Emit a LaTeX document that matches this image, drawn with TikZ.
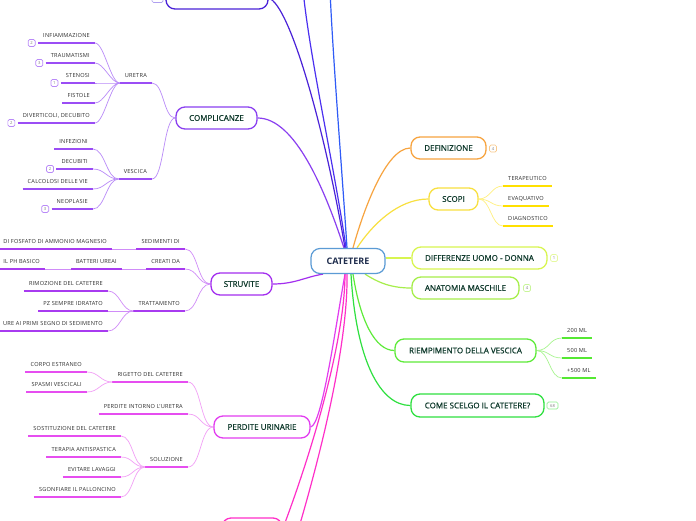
\documentclass[tikz,border=0pt]{standalone}
\usepackage{fontspec}
\setmainfont{Open Sans}
\newfontfamily\leaffont{Open Sans}[LetterSpace=4]
\newfontfamily\titlefont{Open Sans}[FakeBold=0.9]
\usetikzlibrary{backgrounds}
\definecolor{titlecol}{HTML}{0F3A2C}
\definecolor{centcol}{HTML}{1F2D4D}
\definecolor{leafcol}{HTML}{2E2E2E}
\definecolor{cCent}{HTML}{5B9BD5}
\definecolor{cDef}{HTML}{F7A440}\definecolor{cDefL}{HTML}{F9C98A}
\definecolor{cSco}{HTML}{F8E040}\definecolor{cScoU}{HTML}{FFE000}\definecolor{cScoL}{HTML}{FFF080}
\definecolor{cDif}{HTML}{D8F550}\definecolor{cDifL}{HTML}{E6F9A0}
\definecolor{cAna}{HTML}{A6EE4A}\definecolor{cAnaL}{HTML}{C9F59A}
\definecolor{cRie}{HTML}{5EEB3A}\definecolor{cRieU}{HTML}{55E833}\definecolor{cRieL}{HTML}{A8F590}
\definecolor{cCom}{HTML}{2FE040}\definecolor{cComL}{HTML}{90EE90}
\definecolor{cCmp}{HTML}{8A3FF0}\definecolor{cCmpU}{HTML}{9B4DF5}\definecolor{cCmpL}{HTML}{B98AF8}
\definecolor{cStr}{HTML}{A32EEF}\definecolor{cStrU}{HTML}{A83BF0}\definecolor{cStrL}{HTML}{D08CF8}
\definecolor{cPer}{HTML}{E23CF0}\definecolor{cPerU}{HTML}{E64EF0}\definecolor{cPerL}{HTML}{F2A0F6}
\definecolor{cPink}{HTML}{FF2FC8}
\definecolor{cTop}{HTML}{4A22D8}\definecolor{cTopL}{HTML}{B0A0F0}
\definecolor{cB1}{HTML}{4B30F0}\definecolor{cB2}{HTML}{2F5BF7}
\tikzset{
  centre/.style={draw=cCent, line width=1.2pt, rounded corners=9pt, fill=white,
    minimum width=74pt, minimum height=25pt, inner sep=0pt,
    font=\bfseries\fontsize{9}{10}\selectfont, text=centcol},
  topic/.style={draw=#1, line width=1.3pt, rounded corners=9pt, fill=white,
    minimum height=22pt, inner sep=0pt, font=\titlefont\fontsize{8}{9}\selectfont, text=titlecol},
  badge/.style={draw=#1, line width=0.7pt, rounded corners=1.5pt, fill=white,
    minimum width=7pt, minimum height=7pt, inner sep=0.5pt,
    font=\fontsize{4.2}{4.2}\selectfont, text=gray},
  leaf/.style={inner xsep=5pt, inner ysep=5pt, text height=4.2pt, text depth=0pt,
    font=\leaffont\fontsize{5.6}{6}\selectfont, text=leafcol},
  leafL/.style={leaf, anchor=south east},
  leafR/.style={leaf, anchor=south west},
  main/.style={draw=#1, line width=1.2pt},
  sub/.style={draw=#1, line width=0.7pt},
  ul/.style={draw=#1, line width=1.8pt},
}
\begin{document}
\begin{tikzpicture}[x=1pt,y=-1pt]
\useasboundingbox (0,0) rectangle (696,520);
% centre
\node[centre] (cat) at (348,261) {CATETERE};
% right branches
\node[topic=cDef, minimum width=75pt] (def) at (448.5,148) {DEFINIZIONE};
\node[badge=cDefL] (defb) at (493,148.5) {4};
\node[topic=cSco, minimum width=49pt] (sco) at (453.5,199) {SCOPI};
\node[leafR] (ter) at (503,186) {TERAPEUTICO};
\node[leafR] (eva) at (503,206) {EVAQUATIVO};
\node[leafR] (dia) at (503,226) {DIAGNOSTICO};
\node[topic=cDif, minimum width=135pt] (dif) at (479.5,258) {DIFFERENZE UOMO - DONNA};
\node[badge=cDifL] (difb) at (554,258) {1};
\node[topic=cAna, minimum width=107pt] (ana) at (465.5,288) {ANATOMIA MASCHILE};
\node[badge=cAnaL] (anab) at (527,288) {4};
\node[topic=cRie, minimum width=141pt, minimum height=23pt] (rie) at (465.5,350.5) {RIEMPIMENTO DELLA VESCICA};
\node[leafR] (m200) at (562,338) {200 ML};
\node[leafR] (m500) at (562,358) {500 ML};
\node[leafR] (m500p) at (562,378) {+500 ML};
\node[topic=cCom, minimum width=133pt, minimum height=23pt] (com) at (477.5,405.5) {COME SCELGO IL CATETERE?};
\node[badge=cComL, minimum width=11pt] (comb) at (552.5,405.5) {68};
% top (cut) branch
\node[topic=cTop, minimum width=102pt] (topn) at (217,-2) {};
\node[badge=cTopL, minimum width=11pt] (topb) at (157.5,-1) {};
% complicanze
\node[topic=cCmp, minimum width=81pt] (cmp) at (216.5,118) {COMPLICANZE};
\node[leafL] (ure) at (152,83) {URETRA};
\node[leafL] (inf) at (95,43) {INFIAMMAZIONE};
\node[leafL] (trau) at (95,63) {TRAUMATISMI};
\node[leafL] (ste) at (95,83) {STENOSI};
\node[leafL] (fis) at (95,103) {FISTOLE};
\node[leafL] (div) at (95,123) {DIVERTICOLI, DECUBITO};
\node[badge=cCmpL, anchor=east] (infb) at ([xshift=-2.5pt]inf.south west) {2};
\node[badge=cCmpL, anchor=east] (traub) at ([xshift=-2.5pt]trau.south west) {3};
\node[badge=cCmpL, anchor=east] (steb) at ([xshift=-2.5pt]ste.south west) {1};
\node[badge=cCmpL, anchor=east] (divb) at ([xshift=-2.5pt]div.south west) {2};
\node[leafL] (ves) at (152,179) {VESCICA};
\node[leafL] (infz) at (93,149) {INFEZIONI};
\node[leafL] (dec) at (93,169) {DECUBITI};
\node[leafL] (cal) at (93,189) {CALCOLOSI DELLE VIE};
\node[leafL] (neo) at (93,209) {NEOPLASIE};
\node[badge=cCmpL, anchor=east] (decb) at ([xshift=-2.5pt]dec.south west) {2};
\node[badge=cCmpL, anchor=east] (neob) at ([xshift=-2.5pt]neo.south west) {3};
% struvite
\node[topic=cStr, minimum width=61pt] (str) at (241.5,284) {STRUVITE};
\node[leafL] (sed) at (185,249) {SEDIMENTI DI};
\node[leafL] (fos) at (112,249) {DI FOSFATO DI AMMONIO MAGNESIO};
\node[leafL] (cre) at (185,269) {CREATI DA};
\node[leafL] (bat) at (122,269) {BATTERI UREAI};
\node[leafL] (ph) at (45,269) {IL PH BASICO};
\node[leafL] (tra) at (185,311) {TRATTAMENTO};
\node[leafL] (rim) at (108,291) {RIMOZIONE DEL CATETERE};
\node[leafL] (pz) at (108,311) {PZ SEMPRE IDRATATO};
\node[leafL] (ure2) at (108,331) {URE AI PRIMI SEGNO DI SEDIMENTO};
% perdite urinarie
\node[topic=cPer, minimum width=96pt] (per) at (262,427) {PERDITE URINARIE};
\node[leafL] (rig) at (188,382) {RIGETTO DEL CATETERE};
\node[leafL] (cor) at (87,372) {CORPO ESTRANEO};
\node[leafL] (spa) at (87,392) {SPASMI VESCICALI};
\node[leafL] (pin) at (188,414) {PERDITE INTORNO L'URETRA};
\node[leafL] (sol) at (188,467) {SOLUZIONE};
\node[leafL] (sos) at (121,436) {SOSTITUZIONE DEL CATETERE};
\node[leafL] (tea) at (121,457) {TERAPIA ANTISPASTICA};
\node[leafL] (evi) at (121,477) {EVITARE LAVAGGI};
\node[leafL] (sgo) at (121,497) {SGONFIARE IL PALLONCINO};
% bottom (cut) branch
\node[topic=cPink, minimum width=60pt] (bot) at (252,529) {};
\coordinate (offb) at (286,570);
\coordinate (offt1) at (303,-10);
\coordinate (offt2) at (330,-10);

\begin{scope}[on background layer]
\fill[white] (0,0) rectangle (696,520);
% main connectors
\draw[main=cDef] ([xshift=5pt]cat.north) .. controls (362,215) and (385,148) .. (def.west);
\draw[main=cSco] ([xshift=9pt]cat.north) .. controls (372,225) and (398,199) .. (sco.west);
\draw[main=cDif] (cat.east |- dif.west) -- (dif.west);
\draw[main=cAna] ([xshift=17pt]cat.south) .. controls (382,285) and (395,288) .. (ana.west);
\draw[main=cRie] ([xshift=5pt]cat.south) .. controls (360,320) and (375,350.5) .. (rie.west);
\draw[main=cCom] ([xshift=3pt]cat.south) .. controls (356,360) and (380,405.5) .. (com.west);
\draw[main=cCmp] (cmp.east) .. controls (295,118) and (325,190) .. ([xshift=-4pt]cat.north);
\draw[main=cStr] (str.east) .. controls (295,284) and (305,277) .. ([xshift=-25pt]cat.south);
\draw[main=cPer] (per.east) .. controls (322,425) and (335,330) .. ([xshift=-3pt]cat.south);
\draw[main=cPink] (bot.east) .. controls (320,430) and (345,330) .. ([xshift=-3pt]cat.south);
\draw[main=cPink] (offb) .. controls (330,430) and (348,330) .. ([xshift=-1pt]cat.south);
\draw[main=cTop] (topn.east) .. controls (290,5) and (325,130) .. ([xshift=-3pt]cat.north);
\draw[main=cB1] (offt1) .. controls (310,60) and (335,170) .. ([xshift=-2pt]cat.north);
\draw[main=cB2] (offt2) .. controls (333,60) and (342,170) .. ([xshift=-1pt]cat.north);
% scopi
\foreach \n in {ter,eva,dia}{
  \draw[sub=cScoL] (sco.east) .. controls +(12,0) and +(-12,0) .. (\n.south west);
  \draw[ul=cScoU] (\n.south west) -- (\n.south east);}
% riempimento
\foreach \n in {m200,m500,m500p}{
  \draw[sub=cRieL] (rie.east) .. controls +(13,0) and +(-13,0) .. (\n.south west);
  \draw[ul=cRieU] (\n.south west) -- (\n.south east);}
% complicanze
\foreach \n in {ure,ves}{
  \draw[sub=cCmpL] (cmp.west) .. controls +(-12,0) and +(12,0) .. (\n.south east);
  \draw[ul=cCmpU] (\n.south west) -- (\n.south east);}
\foreach \n in {inf,trau,ste,fis,div}{
  \draw[sub=cCmpL] (ure.south west) .. controls +(-9,0) and +(9,0) .. (\n.south east);
  \draw[ul=cCmpU] (\n.south west) -- (\n.south east);}
\foreach \n in {infz,dec,cal,neo}{
  \draw[sub=cCmpL] (ves.south west) .. controls +(-12,0) and +(12,0) .. (\n.south east);
  \draw[ul=cCmpU] (\n.south west) -- (\n.south east);}
% struvite
\foreach \n in {sed,cre,tra}{
  \draw[sub=cStrL] (str.west) .. controls +(-13,0) and +(13,0) .. (\n.south east);
  \draw[ul=cStrU] (\n.south west) -- (\n.south east);}
\foreach \n in {fos,bat,ph,rim,pz,ure2}{
  \draw[ul=cStrU] (\n.south west) -- (\n.south east);}
\draw[sub=cStrL] (sed.south west) -- (fos.south east);
\draw[sub=cStrL] (cre.south west) -- (bat.south east);
\draw[sub=cStrL] (bat.south west) -- (ph.south east);
\foreach \n in {rim,pz,ure2}{
  \draw[sub=cStrL] (tra.south west) .. controls +(-12,0) and +(12,0) .. (\n.south east);}
% perdite
\foreach \n in {rig,pin,sol}{
  \draw[sub=cPerL] (per.west) .. controls +(-13,0) and +(13,0) .. (\n.south east);
  \draw[ul=cPerU] (\n.south west) -- (\n.south east);}
\foreach \n in {cor,spa}{
  \draw[sub=cPerL] (rig.south west) .. controls +(-12,0) and +(12,0) .. (\n.south east);
  \draw[ul=cPerU] (\n.south west) -- (\n.south east);}
\foreach \n in {sos,tea,evi,sgo}{
  \draw[sub=cPerL] (sol.south west) .. controls +(-12,0) and +(12,0) .. (\n.south east);
  \draw[ul=cPerU] (\n.south west) -- (\n.south east);}
\end{scope}
\end{tikzpicture}
\end{document}
